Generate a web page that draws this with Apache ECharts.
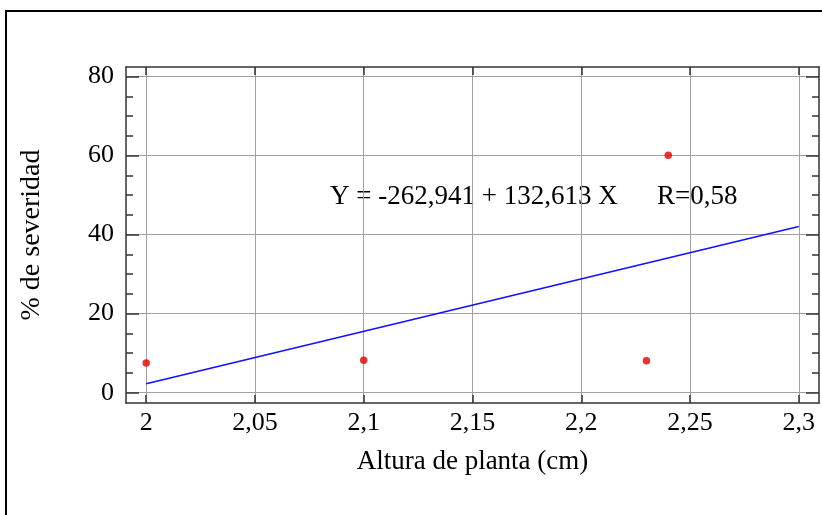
<!DOCTYPE html>
<html>
<head>
<meta charset="utf-8">
<script src="https://cdn.jsdelivr.net/npm/echarts@6/dist/echarts.min.js"></script>
<style>html,body{margin:0;padding:0;background:#fff;}#c{width:822px;height:515px;}</style>
</head>
<body>
<div id="c"></div>
<script>
// ---- data ----
const xValues = [2.0, 2.1, 2.23, 2.24];
const yValues = [7.5, 8.2, 8.1, 60.1];
const fitIntercept = -262.941;
const fitSlope = 132.613;
const fitRange = [2.0, 2.3];
const xTickValues = [2.0, 2.05, 2.1, 2.15, 2.2, 2.25, 2.3];
const xTickLabels = ['2', '2,05', '2,1', '2,15', '2,2', '2,25', '2,3'];
const yTickValues = [0, 20, 40, 60, 80];
const yTickLabels = ['0', '20', '40', '60', '80'];
const yMinorValues = [5, 10, 15, 25, 30, 35, 45, 50, 55, 65, 70, 75];
const equationText = 'Y = -262,941 + 132,613 X';
const rText = 'R=0,58';
const xTitle = 'Altura de planta (cm)';
const yTitle = '% de severidad';

const FONT = '"Liberation Serif", "Times New Roman", serif';
const points = xValues.map((x, i) => [x, yValues[i]]);
const fitLine = fitRange.map(x => [x, fitIntercept + fitSlope * x]);

const X_MIN = 1.9907, X_MAX = 2.3093, Y_MIN = -2.6, Y_MAX = 82.4;
const boxColor = '#333';
const gridColor = '#a0a0a0';

function labelFor(values, labels) {
  return function (v) {
    for (let i = 0; i < values.length; i++) if (Math.abs(values[i] - v) < 1e-6) return labels[i];
    return '';
  };
}

const chart = echarts.init(document.getElementById('c'), null, {renderer: 'canvas'});
chart.setOption({
  backgroundColor: '#fff',
  animation: false,
  grid: {left: 126, top: 67, width: 693, height: 336, show: false},
  xAxis: [
    {
      type: 'value', position: 'bottom', min: X_MIN, max: X_MAX,
      name: xTitle, nameLocation: 'middle', nameGap: 45,
      nameTextStyle: {fontFamily: FONT, fontSize: 27, color: '#000'},
      axisLine: {show: true, onZero: false, lineStyle: {color: boxColor, width: 1.5}},
      axisTick: {show: true, inside: true, length: 8, customValues: xTickValues, lineStyle: {color: boxColor, width: 1.5}},
      axisLabel: {show: true, margin: 7, customValues: xTickValues, formatter: labelFor(xTickValues, xTickLabels),
        fontFamily: FONT, fontSize: 26, color: '#000'},
      splitLine: {show: true, lineStyle: {color: gridColor, width: 1}}
    },
    {
      type: 'value', position: 'top', min: X_MIN, max: X_MAX,
      axisLine: {show: true, onZero: false, lineStyle: {color: boxColor, width: 1.5}},
      axisTick: {show: true, inside: true, length: 8, customValues: xTickValues, lineStyle: {color: boxColor, width: 1.5}},
      axisLabel: {show: false},
      splitLine: {show: false}
    }
  ],
  yAxis: [
    {
      type: 'value', position: 'left', min: Y_MIN, max: Y_MAX,
      name: yTitle, nameLocation: 'middle', nameGap: 80, nameRotate: 90,
      nameTextStyle: {fontFamily: FONT, fontSize: 28, color: '#000'},
      axisLine: {show: true, onZero: false, lineStyle: {color: boxColor, width: 1.5}},
      axisTick: {show: true, inside: true, length: 13, customValues: yTickValues, lineStyle: {color: boxColor, width: 1.5}},
      axisLabel: {show: true, margin: 12, customValues: yTickValues, formatter: labelFor(yTickValues, yTickLabels),
        fontFamily: FONT, fontSize: 26, color: '#000'},
      splitLine: {show: true, lineStyle: {color: gridColor, width: 1}}
    },
    {
      type: 'value', position: 'left', min: Y_MIN, max: Y_MAX,
      axisLine: {show: false},
      axisTick: {show: true, inside: true, length: 7, customValues: yMinorValues, lineStyle: {color: boxColor, width: 1.5}},
      axisLabel: {show: false}, splitLine: {show: false}
    },
    {
      type: 'value', position: 'right', min: Y_MIN, max: Y_MAX,
      axisLine: {show: true, onZero: false, lineStyle: {color: boxColor, width: 1.5}},
      axisTick: {show: true, inside: true, length: 13, customValues: yTickValues, lineStyle: {color: boxColor, width: 1.5}},
      axisLabel: {show: false}, splitLine: {show: false}
    },
    {
      type: 'value', position: 'right', min: Y_MIN, max: Y_MAX,
      axisLine: {show: false},
      axisTick: {show: true, inside: true, length: 7, customValues: yMinorValues, lineStyle: {color: boxColor, width: 1.5}},
      axisLabel: {show: false}, splitLine: {show: false}
    }
  ],
  series: [
    {
      type: 'line', xAxisIndex: 0, yAxisIndex: 0, data: fitLine,
      symbol: 'none', lineStyle: {color: '#1010ff', width: 1.5}, z: 3
    },
    {
      type: 'scatter', xAxisIndex: 0, yAxisIndex: 0, data: points,
      symbol: 'circle', symbolSize: 7.5, itemStyle: {color: '#e00000'}, z: 4
    }
  ],
  graphic: [
    {type: 'rect', shape: {x: 6, y: 11, width: 900, height: 600}, style: {fill: 'none', stroke: '#000', lineWidth: 2}, silent: true},
    {type: 'text', left: 330, top: 183, style: {text: equationText, font: '27px ' + FONT, fill: '#000'}},
    {type: 'text', left: 657, top: 183, style: {text: rText, font: '27px ' + FONT, fill: '#000'}}
  ]
});
</script>
</body>
</html>
